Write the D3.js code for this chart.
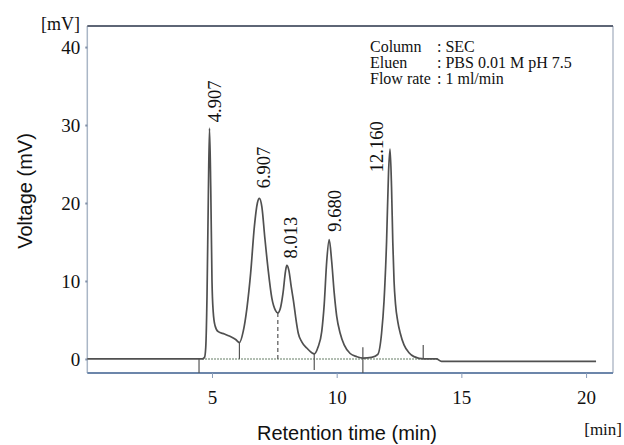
<!DOCTYPE html>
<html>
<head>
<meta charset="utf-8">
<script src="https://cdn.jsdelivr.net/npm/d3@7"></script>
<style>
  body { margin: 0; background: #fff; }
  text { fill: #111; }
  .serif { font-family: "Liberation Serif", "Times New Roman", serif; }
  .sans { font-family: "Liberation Sans", Arial, sans-serif; }
</style>
</head>
<body>
<script>
// chromatogram trace: [min, mV]
var traceTime = [0, 4.6, 4.7, 4.75, 4.8, 4.85, 4.9, 4.95, 5.0, 5.05, 5.12, 5.25, 5.5, 5.72, 5.95, 6.1,
    6.25, 6.4, 6.55, 6.7, 6.82, 6.9, 7.0, 7.12, 7.25, 7.4, 7.55, 7.64,
    7.75, 7.85, 7.95, 8.0, 8.08, 8.18, 8.27, 8.38, 8.46, 8.6, 8.8, 9.0, 9.1,
    9.25, 9.4, 9.5, 9.6, 9.7, 9.8, 9.9, 10.0, 10.14, 10.3, 10.54, 10.8, 11.05, 11.4, 11.65,
    11.8, 11.9, 12.0, 12.08, 12.14, 12.2, 12.25, 12.3, 12.36, 12.45, 12.55, 12.7, 12.9, 13.1, 13.5,
    14.0, 14.2, 20.4];
var traceMv = [0, 0, 0.2, 1.5, 8, 20, 29.6, 22, 10, 6, 4.3, 3.5, 3.2, 2.9, 2.5, 2.1,
    3.5, 6.5, 11, 17, 20, 20.6, 19.5, 15.5, 11.5, 7.8, 6.2, 5.9,
    6.6, 8.5, 11.3, 12.0, 11.4, 9.2, 7.4, 4.8, 3.3, 2.2, 1.4, 0.8, 0.65,
    1.5, 3.5, 7, 12.5, 15.3, 12.5, 8.5, 5.5, 3.3, 1.8, 0.7, 0.3, 0.1, 0.2, 0.6,
    3.3, 7.5, 15, 24, 26.9, 22, 15, 10, 7, 4.8, 3.3, 1.8, 0.8, 0.3, 0,
    0, -0.3, -0.3];

// peak labels
var peakTime = [4.907, 6.907, 8.013, 9.680, 12.160];
var peakMv = [29.6, 20.6, 12.0, 15.3, 26.9];
var peakText = ["4.907", "6.907", "8.013", "9.680", "12.160"];

// integration marks: time, top mV, bottom mV
var markTime = [4.48, 6.1, 7.64, 9.1, 11.05, 13.47];
var markTop = [0, 2.1, 5.9, 0.65, 1.5, 1.8];
var markBottom = [-1.8, 0, 0, -1.4, -1.8, 0];
var markDashed = [false, false, true, false, false, false];

// baseline (dotted) extent
var baseStart = 4.6, baseEnd = 14.1;

var xTicks = [5, 10, 15, 20];
var yTicks = [0, 10, 20, 30, 40];

var infoLabels = ["Column", "Eluen", "Flow rate"];
var infoValues = [": SEC", ": PBS 0.01 M pH 7.5", ": 1 ml/min"];

var w = 624, h = 445;
var plotL = 87.3, plotR = 613, plotT = 26, plotB = 373;

var svg = d3.select("body").append("svg")
    .attr("width", w)
    .attr("height", h);

var x = d3.scaleLinear().domain([0, 21.08]).range([plotL, plotR]);
var y = d3.scaleLinear().domain([-1.8, 42.7]).range([plotB, plotT]);

// frame
svg.append("line").attr("x1", plotL).attr("x2", plotL).attr("y1", plotT).attr("y2", plotB)
    .attr("stroke", "#aab6c6").attr("stroke-width", 1.5);
svg.append("line").attr("x1", plotR).attr("x2", plotR).attr("y1", plotT).attr("y2", plotB)
    .attr("stroke", "#b4bcca").attr("stroke-width", 1.5);
svg.append("line").attr("x1", plotL).attr("x2", plotR).attr("y1", plotT).attr("y2", plotT)
    .attr("stroke", "#5e6676").attr("stroke-width", 2);
svg.append("line").attr("x1", plotL).attr("x2", plotR).attr("y1", plotB).attr("y2", plotB)
    .attr("stroke", "#6c86aa").attr("stroke-width", 2);

// axes
var xAxis = svg.append("g")
    .attr("class", "xaxis serif")
    .attr("transform", "translate(0," + plotB + ")")
    .call(d3.axisBottom(x).tickValues(xTicks).tickSize(5).tickPadding(13).tickFormat(d3.format("d")));
xAxis.select(".domain").remove();
xAxis.selectAll("line").attr("stroke", "#8a9cb8");
xAxis.selectAll("text").attr("font-size", 19).attr("fill", "#111");

var yAxis = svg.append("g")
    .attr("class", "yaxis serif")
    .attr("transform", "translate(" + plotL + ",0)")
    .call(d3.axisLeft(y).tickValues(yTicks).tickSize(2).tickPadding(5).tickFormat(d3.format("d")));
yAxis.select(".domain").remove();
yAxis.selectAll("line").attr("stroke", "#8090a8").attr("stroke-width", 2);
yAxis.selectAll("text").attr("font-size", 19).attr("fill", "#111");

// dotted baseline
svg.append("line")
    .attr("x1", x(baseStart)).attr("x2", x(baseEnd))
    .attr("y1", y(0)).attr("y2", y(0))
    .attr("stroke", "#98a898").attr("stroke-width", 1.5)
    .attr("stroke-dasharray", "2,1");

// integration marks
svg.selectAll(".mark")
    .data(markTime)
    .enter()
    .append("line")
    .attr("class", "mark")
    .attr("x1", function(d){ return x(d); })
    .attr("x2", function(d){ return x(d); })
    .attr("y1", function(d, i){ return y(markTop[i]); })
    .attr("y2", function(d, i){ return y(markBottom[i]); })
    .attr("stroke", "#555")
    .attr("stroke-width", 1.2)
    .attr("stroke-dasharray", function(d, i){ return markDashed[i] ? "4,3" : null; });

// trace
var trace = traceTime.map(function(t, i){ return [t, traceMv[i]]; });
var line = d3.line()
    .x(function(d){ return x(d[0]); })
    .y(function(d){ return y(d[1]); })
    .curve(d3.curveMonotoneX);

svg.append("path")
    .datum(trace)
    .attr("d", line)
    .attr("fill", "none")
    .attr("stroke", "#505050")
    .attr("stroke-width", 1.7)
    .attr("stroke-linejoin", "round");

// peak labels (rotated), offsets in px from apex
var labelDx = [11, 10, 10, 12, -8];
var labelDy = [-6, -10, -7, -8, 23];
svg.selectAll(".peakLabel")
    .data(peakText)
    .enter()
    .append("text")
    .attr("class", "peakLabel serif")
    .attr("font-size", 18.5)
    .attr("transform", function(d, i){
        var px = x(peakTime[i]) + labelDx[i];
        var py = y(peakMv[i]) + labelDy[i];
        return "translate(" + px + "," + py + ") rotate(-90)";
    })
    .text(function(d){ return d; });

// info box
var info = svg.selectAll(".info")
    .data(infoLabels)
    .enter()
    .append("g")
    .attr("class", "info serif")
    .attr("transform", function(d, i){ return "translate(0," + (52 + i * 16) + ")"; });
info.append("text").attr("x", 370).attr("font-size", 16).text(function(d){ return d; });
info.append("text").attr("x", 437).attr("font-size", 16).text(function(d, i){ return infoValues[i]; });

// unit labels
svg.append("text").attr("class", "serif").attr("font-size", 18)
    .attr("text-anchor", "end").attr("x", 80).attr("y", 30).text("[mV]");
svg.append("text").attr("class", "serif").attr("font-size", 17)
    .attr("text-anchor", "end").attr("x", 622).attr("y", 435).text("[min]");

// axis titles
svg.append("text").attr("class", "sans").attr("font-size", 20)
    .attr("text-anchor", "middle").attr("x", 347).attr("y", 440)
    .text("Retention time (min)");
svg.append("text").attr("class", "sans").attr("font-size", 20)
    .attr("text-anchor", "middle")
    .attr("transform", "translate(32,191) rotate(-90)")
    .text("Voltage (mV)");
</script>
</body>
</html>
